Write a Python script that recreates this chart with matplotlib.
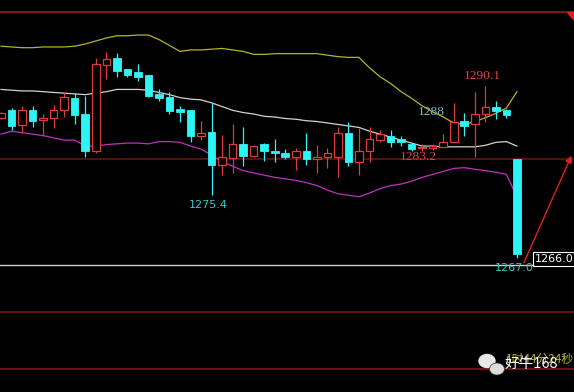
import numpy as np
import matplotlib
matplotlib.use("Agg")
import matplotlib.pyplot as plt
from matplotlib.patches import Ellipse, Polygon

# Velas (OHLC)
opens = [1285.8, 1286.9, 1284.8, 1286.8, 1285.5, 1285.7, 1286.8, 1288.5, 1286.3, 1281.3,
         1292.9, 1293.8, 1292.3, 1292.0, 1291.5, 1289.0, 1288.6, 1287.0, 1286.9, 1283.4,
         1283.9, 1279.5, 1280.4, 1282.3, 1280.7, 1282.3, 1281.4, 1281.1, 1280.6, 1281.3,
         1280.2, 1280.5, 1280.6, 1283.8, 1279.9, 1281.3, 1282.8, 1283.4, 1282.9, 1282.3,
         1281.7, 1281.7, 1281.9, 1282.6, 1285.3, 1284.9, 1286.3, 1287.2, 1286.8, 1280.2]
closes = [1286.4, 1284.7, 1286.8, 1285.3, 1285.8, 1286.8, 1288.6, 1286.2, 1281.4, 1293.0,
          1293.7, 1292.1, 1291.6, 1291.3, 1288.7, 1288.4, 1286.7, 1286.6, 1283.3, 1283.8,
          1279.5, 1280.5, 1282.3, 1280.7, 1282.0, 1281.4, 1281.1, 1280.6, 1281.3, 1280.2,
          1280.6, 1281.1, 1283.7, 1279.9, 1281.4, 1282.9, 1283.6, 1282.6, 1282.6, 1281.6,
          1281.9, 1282.0, 1282.6, 1285.2, 1284.7, 1286.3, 1287.2, 1286.7, 1286.2, 1267.5]
highs = [1286.6, 1287.1, 1287.4, 1287.4, 1286.3, 1287.5, 1289.3, 1289.1, 1288.7, 1293.8,
         1294.6, 1294.5, 1292.4, 1293.0, 1291.6, 1289.6, 1289.3, 1287.4, 1286.9, 1285.4,
         1287.8, 1283.5, 1284.9, 1284.6, 1282.2, 1282.4, 1282.9, 1281.6, 1281.7, 1283.8,
         1282.2, 1281.7, 1284.6, 1285.2, 1284.4, 1284.6, 1284.1, 1284.2, 1283.4, 1282.4,
         1282.3, 1282.3, 1283.6, 1287.8, 1286.4, 1289.2, 1290.1, 1288.0, 1287.0, 1280.2]
lows = [1285.6, 1284.2, 1283.7, 1284.5, 1283.3, 1284.4, 1285.9, 1284.9, 1280.5, 1281.1,
        1291.0, 1291.3, 1291.3, 1290.7, 1288.6, 1288.0, 1286.3, 1285.2, 1282.5, 1282.8,
        1275.4, 1278.1, 1278.4, 1279.3, 1280.6, 1280.0, 1279.9, 1280.2, 1278.8, 1279.5,
        1278.4, 1279.0, 1277.9, 1279.3, 1278.1, 1279.8, 1282.6, 1281.9, 1282.0, 1281.3,
        1281.4, 1281.5, 1281.9, 1282.5, 1283.4, 1280.6, 1285.2, 1285.6, 1285.8, 1267.0]

# Bandas de Bollinger (superior, media, inferior)
upper = [1295.4, 1295.3, 1295.2, 1295.2, 1295.3, 1295.3, 1295.3, 1295.4, 1295.7, 1296.1,
         1296.5, 1296.8, 1296.8, 1296.9, 1296.9, 1296.3, 1295.5, 1294.7, 1294.9, 1294.9,
         1295.0, 1295.1, 1294.9, 1294.7, 1294.3, 1294.3, 1294.4, 1294.4, 1294.4, 1294.4,
         1294.4, 1294.2, 1294.0, 1293.9, 1293.9, 1292.5, 1291.3, 1290.4, 1289.3, 1288.4,
         1287.4, 1286.6, 1285.9, 1285.1, 1284.9, 1285.3, 1285.8, 1286.4, 1287.1, 1289.3]
middle = [1289.6, 1289.5, 1289.4, 1289.4, 1289.3, 1289.2, 1289.1, 1289.0, 1288.9, 1289.1,
          1289.3, 1289.6, 1289.6, 1289.6, 1289.5, 1289.2, 1288.9, 1288.5, 1288.3, 1288.2,
          1287.8, 1287.3, 1286.8, 1286.5, 1286.3, 1286.0, 1285.9, 1285.7, 1285.6, 1285.4,
          1285.3, 1285.1, 1284.9, 1284.7, 1284.5, 1284.0, 1283.6, 1283.2, 1282.8, 1282.4,
          1282.0, 1282.0, 1281.9, 1281.9, 1281.9, 1281.9, 1282.1, 1282.5, 1282.6, 1282.0]
lower = [1283.6, 1284.0, 1283.8, 1283.6, 1283.4, 1283.1, 1282.8, 1282.8, 1282.0, 1282.0,
         1282.2, 1282.3, 1282.4, 1282.4, 1282.3, 1282.6, 1282.6, 1282.5, 1282.0, 1281.6,
         1280.8, 1279.9, 1279.3, 1278.7, 1278.4, 1278.1, 1277.8, 1277.6, 1277.4, 1277.1,
         1276.7, 1276.1, 1275.6, 1275.4, 1275.2, 1275.7, 1276.3, 1276.7, 1276.9, 1277.3,
         1277.8, 1278.2, 1278.6, 1279.0, 1279.1, 1278.9, 1278.7, 1278.5, 1278.2, 1275.2]

# Lineas horizontales y precio actual
red_levels = [1300.0, 1280.2, 1259.7, 1252.1]
red_level_colors = ['#a81c1c', '#6e1616', '#7a1616', '#8a1818']
price_now = 1266.0
trend_start = (49.55, 1266.0)
trend_end = (54.29, 1281.05)

# Etiquetas de maximos/minimos (texto, x, y, color, fuente)
marks = [("1275.4", 19.66, 1274.1, '#38c8c8', 'DejaVu Sans', 8),
         ("1267.0", 48.7, 1265.65, '#38c8c8', 'DejaVu Sans', 8),
         ("1290.1", 45.7, 1291.35, '#e04040', 'Liberation Serif', 9.7),
         ("1288", 40.85, 1286.6, '#80b8cc', 'Liberation Serif', 9.7),
         ("1283.2", 39.6, 1280.55, '#e04040', 'Liberation Serif', 9.7)]

red = '#dc3c3c'
cyan = '#2ef5f5'

fig = plt.figure(figsize=(5.74, 3.92), dpi=100, facecolor='black')
ax = fig.add_axes([0, 0, 1, 1])
ax.set_facecolor('black')
ax.set_xlim(-0.095, 54.42)
ax.set_ylim(1249.0, 1301.6)
ax.axis('off')

x = np.arange(len(opens))
o = np.array(opens)
c = np.array(closes)
up = c >= o
colors = [red if u else cyan for u in up]

# lineas horizontales
for lvl, col in zip(red_levels, red_level_colors):
    ax.axhline(lvl, color=col, lw=1.1, zorder=1)
ax.axhline(price_now, color='#d0d0d0', lw=1.0, zorder=1)

# bandas
ax.plot(x, upper, color='#b4b42a', lw=0.9, zorder=2)
ax.plot(x, middle, color='#d2d2d2', lw=0.9, zorder=2)
ax.plot(x, lower, color='#c030c0', lw=0.9, zorder=2)

# mechas y cuerpos
ax.vlines(x, lows, highs, colors=colors, lw=0.9, zorder=3)
bottoms = np.minimum(o, c)
heights = np.maximum(np.abs(c - o), 0.08)
ax.bar(x[up], heights[up], bottom=bottoms[up], width=0.72,
       facecolor='black', edgecolor=red, linewidth=0.9, zorder=4)
ax.bar(x[~up], heights[~up], bottom=bottoms[~up], width=0.72,
       facecolor=cyan, edgecolor=cyan, linewidth=0.6, zorder=4)

# etiquetas de precio
for txt, tx, ty, col, fam, fs in marks:
    ax.text(tx, ty, txt, color=col, fontsize=fs, family=fam, ha='center', va='center', zorder=6)

# caja con el precio actual
ax.text(54.4, price_now + 0.15, "%.1f" % price_now, color='white', fontsize=8,
        ha='right', va='bottom', zorder=7,
        bbox=dict(boxstyle='square,pad=0.2', fc='black', ec='white', lw=0.8))

# linea de tendencia con flecha
ax.annotate("", xy=trend_end, xytext=trend_start,
            arrowprops=dict(arrowstyle='-|>', color='#e02020', lw=1.0, mutation_scale=10),
            zorder=5)

# triangulo rojo arriba a la derecha
W, H = 574.0, 392.0
tri = Polygon([(566.5 / W, 1 - 12 / H), (574 / W, 1 - 12 / H), (574 / W, 1 - 20 / H)],
              closed=True, transform=fig.transFigure, color='#e02020', zorder=5)
fig.patches.append(tri)

# contador y marca de agua
fig.text(540 / W, 1 - 359 / H, "1时44分24秒", color='#b8b82c', fontsize=8.5,
         family=['Noto Sans CJK SC', 'DejaVu Sans'], ha='center', va='center')
fig.patches.append(Ellipse((487 / W, 1 - 361 / H), 16 / W, 13 / H, transform=fig.transFigure,
                           color='#e8e8e8'))
fig.patches.append(Ellipse((497 / W, 1 - 369 / H), 15 / W, 12 / H, transform=fig.transFigure,
                           color='#dcdcdc', ec='#303030', lw=0.5))
fig.text(531 / W, 1 - 364 / H, "好牛168", color='white', fontsize=10.5,
         family=['Noto Sans CJK SC', 'DejaVu Sans'], ha='center', va='center')

fig.savefig("out.png", dpi=100, facecolor='black')
